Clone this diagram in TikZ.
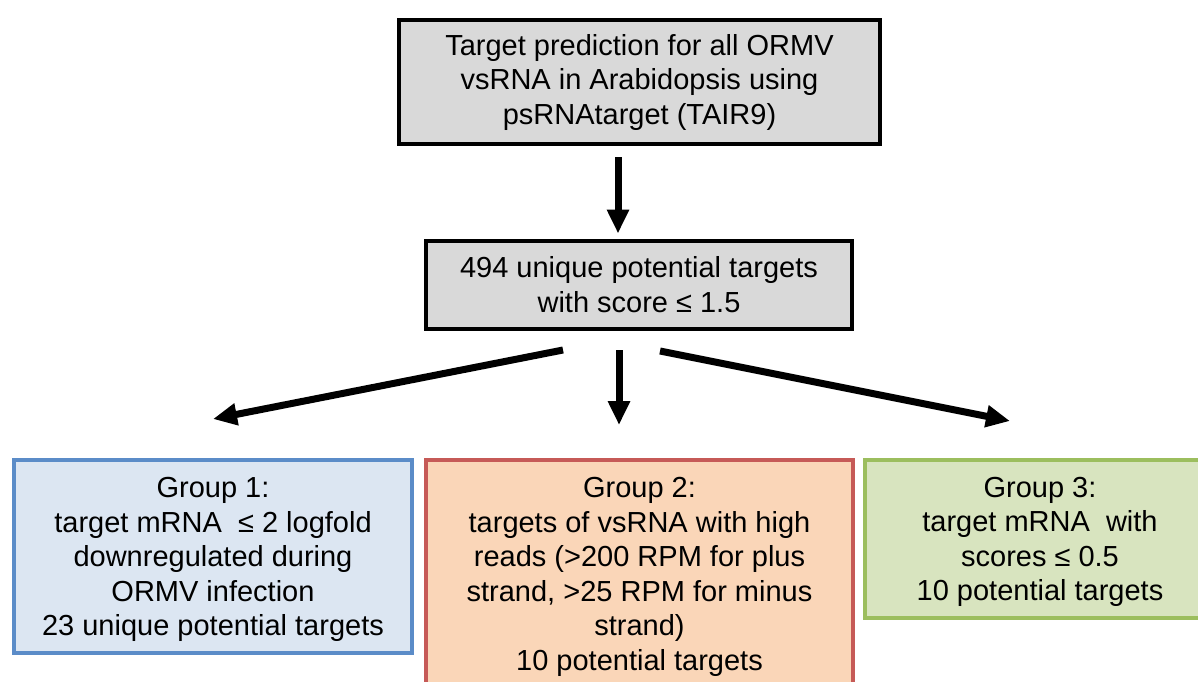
\documentclass[tikz,border=0pt]{standalone}
\usepackage{fontspec}
\setmainfont{Liberation Sans}
\usetikzlibrary{arrows.meta}
\definecolor{boxgray}{HTML}{D9D9D9}
\definecolor{g1fill}{HTML}{DCE6F2}
\definecolor{g1line}{HTML}{5B8CC8}
\definecolor{g2fill}{HTML}{FAD6B8}
\definecolor{g2line}{HTML}{C65A57}
\definecolor{g3fill}{HTML}{D8E4BF}
\definecolor{g3line}{HTML}{9CBE5E}
\tikzset{
  box/.style={rectangle, draw, line width=4pt, align=center, inner sep=0pt,
    font=\fontsize{29}{34.5}\selectfont},
  graybox/.style={box, draw=black, fill=boxgray},
  grouptext/.style={yshift=-3pt},
  arr/.style={line width=7pt, -{Triangle[width=21pt,length=24pt]}}
}
\begin{document}
\begin{tikzpicture}[x=1pt,y=-1pt]
\useasboundingbox (0,0) rectangle (1198,681);
\clip (0,0) rectangle (1198,681);
\fill[white] (0,0) rectangle (1198,681);
\node[graybox, minimum width=481pt, minimum height=124pt] (top) at (639.5,82)
  {Target prediction for all ORMV\\vsRNA in Arabidopsis using\\psRNAtarget (TAIR9)};
\node[graybox, minimum width=426pt, minimum height=88pt] (mid) at (639,284.5)
  {494 unique potential targets\\with score ≤ 1.5};
\node[box, draw=g1line, fill=g1fill, minimum width=398pt, minimum height=193pt] (g1) at (213,556.5) {};
\node[box, draw=none, fill=none] (g1t) at ([yshift=-3pt]g1.center)
  {Group 1:\\target mRNA\ \ ≤ 2 logfold\\downregulated during\\ORMV infection\\23 unique potential targets};
\node[box, draw=g2line, fill=g2fill, minimum width=427pt, minimum height=234pt] (g2) at (639.5,577)
  {Group 2:\\targets of vsRNA with high\\reads (>200 RPM for plus\\strand, >25 RPM for minus\\strand)\\10 potential targets};
\node[box, draw=g3line, fill=g3fill, minimum width=350pt, minimum height=158pt] (g3) at (1040,539) {};
\node[box, draw=none, fill=none] (g3t) at ([yshift=-3pt]g3.center)
  {Group 3:\\target mRNA\ \ with\\scores ≤ 0.5\\10 potential targets};
\coordinate (mL) at (563,350);
\coordinate (mC) at (619,350);
\coordinate (mR) at (660,351);
\coordinate (tL) at (213,419);
\coordinate (tC) at (619,425);
\coordinate (tR) at (1010,421);
\draw[arr, shorten <=11pt, shorten >=5pt] (top.south -| 618,0) -- (mid.north -| 618,0);
\draw[arr] (mL) -- (tL);
\draw[arr] (mC) -- (tC);
\draw[arr] (mR) -- (tR);
\end{tikzpicture}
\end{document}
